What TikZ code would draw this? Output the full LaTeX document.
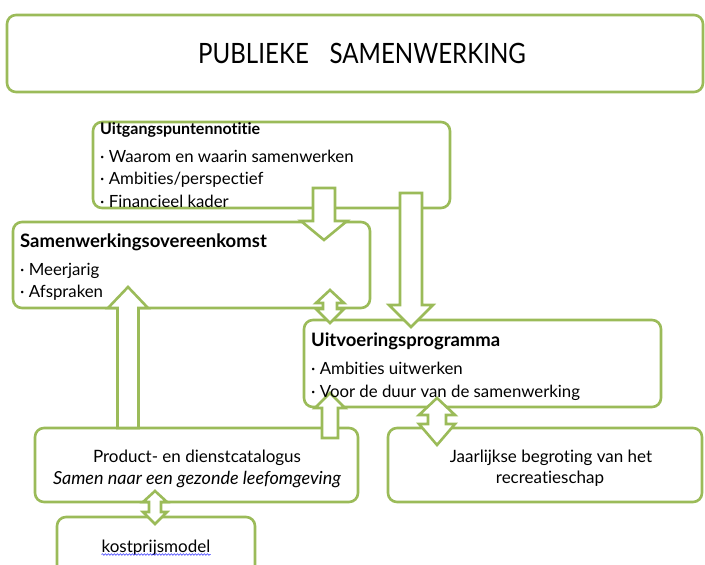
\documentclass[tikz,border=0pt]{standalone}
\usepackage{fontspec}
\setmainfont{Lato}[Ligatures={NoCommon}, Contextuals={NoAlternate}, RawFeature={-dlig}]
\usetikzlibrary{decorations.pathmorphing}
\definecolor{lgreen}{HTML}{9BBB59}
\newcommand{\vblockarrow}[6]{% c, shaft half, head half, tail y, head base y, tip y
  \draw[barrow] (#1-#2,#4) -- (#1+#2,#4) -- (#1+#2,#5) -- (#1+#3,#5) -- (#1,#6) -- (#1-#3,#5) -- (#1-#2,#5) -- cycle;}
\newcommand{\vdoublearrow}[7]{% c, shaft half, head half, tip1, base1, base2, tip2
  \draw[barrow] (#1,#4) -- (#1+#3,#5) -- (#1+#2,#5) -- (#1+#2,#6) -- (#1+#3,#6) -- (#1,#7) -- (#1-#3,#6) -- (#1-#2,#6) -- (#1-#2,#5) -- (#1-#3,#5) -- cycle;}
\begin{document}
\begin{tikzpicture}[x=1pt,y=-1pt,
  box/.style={draw=lgreen, line width=2.6pt, rounded corners=9pt, fill=white, inner sep=0pt},
  barrow/.style={draw=lgreen, line width=2.6pt, fill=white, line join=miter},
  txt/.style={inner sep=0pt, anchor=base west, font=\fontsize{16.8}{19}\selectfont},
  btxt/.style={txt, font=\fontsize{18.5}{21}\selectfont\bfseries},
  ctxt/.style={inner sep=0pt, anchor=base, font=\fontsize{17}{19}\selectfont}]
\useasboundingbox (0,0) rectangle (705,565);
\clip (0,0) rectangle (705,565);
% boxes
\node[box, minimum width=696pt, minimum height=77pt] (title) at (355,53.5) {};
\node[box, minimum width=357pt, minimum height=86pt] (uitg) at (271.5,165) {};
\node[box, minimum width=357pt, minimum height=86pt] (samen) at (191.5,265) {};
\node[box, minimum width=357pt, minimum height=87pt] (uitv) at (482.5,363.5) {};
\node[box, minimum width=323pt, minimum height=74pt] (cat) at (196.5,465) {};
\node[box, minimum width=314pt, minimum height=74pt] (jaar) at (545,465) {};
\node[box, minimum width=198pt, minimum height=80pt] (kost) at (156,557) {};
% block arrows
\vblockarrow{324}{11}{23}{188}{221}{240}
\vblockarrow{411}{11}{22}{193}{305}{327}
\vdoublearrow{330}{7}{14}{290}{303}{309}{323}
\vblockarrow{128}{10.5}{20}{428}{308}{287}
\vblockarrow{330}{8}{15}{438}{408}{393}
\vdoublearrow{437}{9}{18}{398}{415}{424}{445}
\vdoublearrow{155}{6}{12}{491}{502}{512}{524}
% texts
\node[inner sep=0pt, anchor=base] (titletxt) at (362,63) {\scalebox{0.86}[1]{\fontsize{28}{30}\selectfont PUBLIEKE\hspace{24pt}SAMENWERKING}};
\node[btxt, font=\fontsize{16}{19}\selectfont\bfseries] (u0) at (100,134) {Uitgangspuntennotitie};
\node[txt] (u1) at (100,162) {· Waarom en waarin samenwerken};
\node[txt] (u2) at (100,184) {· Ambities/perspectief};
\node[txt] (u3) at (100,207) {· Financieel kader};
\node[btxt] (s0) at (20,247) {Samenwerkingsovereenkomst};
\node[txt] (s1) at (20,275) {· Meerjarig};
\node[txt] (s2) at (20,297) {· Afspraken};
\node[btxt] (v0) at (311,346) {Uitvoeringsprogramma};
\node[txt] (v1) at (311,374) {· Ambities uitwerken};
\node[txt] (v2) at (311,397) {· Voor de duur van de samenwerking};
\node[ctxt] (c1) at (197,462) {Product- en dienstcatalogus};
\node[ctxt, font=\fontsize{18}{20}\selectfont\itshape] (c2) at (197,484) {Samen naar een gezonde leefomgeving};
\node[ctxt] (j1) at (551,462) {Jaarlijkse begroting van het};
\node[ctxt] (j2) at (550,483) {recreatieschap};
\node[ctxt, font=\fontsize{17}{19}\selectfont] (k1) at (156,552) {kostprijsmodel};
\draw[blue!75, line width=0.6pt, decorate, decoration={snake, amplitude=0.8pt, segment length=3pt}] ([yshift=-2.5pt]k1.base west) -- ([yshift=-2.5pt]k1.base east);
\end{tikzpicture}
\end{document}
